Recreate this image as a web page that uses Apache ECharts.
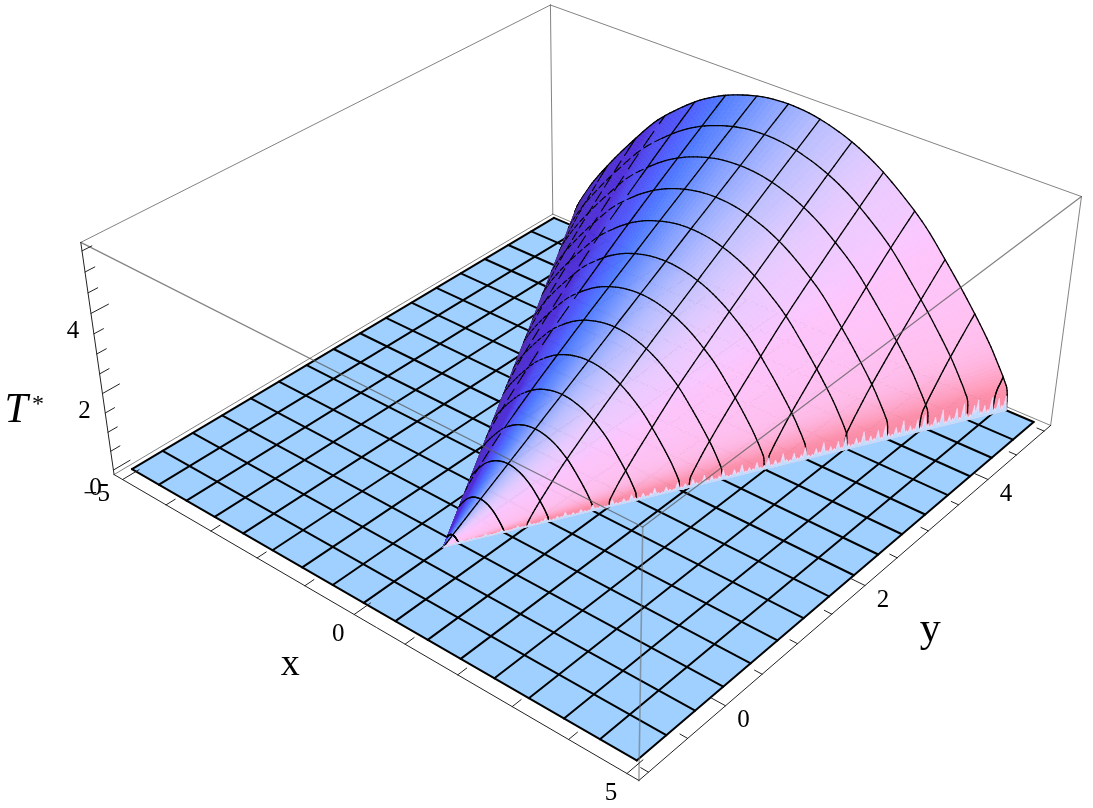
<!DOCTYPE html>
<html>
<head>
<meta charset="utf-8">
<style>html,body{margin:0;background:#fff}#chart{width:1093px;height:808px}</style>
<script src="https://cdn.jsdelivr.net/npm/echarts@6/dist/echarts.min.js"></script>
</head>
<body>
<div id="chart"></div>
<script>
// mesh lines of the sheet
const meshX = [-5, -4.375, -3.75, -3.125, -2.5, -1.875, -1.25, -0.625, 0, 0.625, 1.25, 1.875, 2.5, 3.125, 3.75, 4.375, 5]
const meshY = [-1, -0.625, -0.25, 0.125, 0.5, 0.875, 1.25, 1.625, 2, 2.375, 2.75, 3.125, 3.5, 3.875, 4.25, 4.625, 5]

// the raised part
const rowY = [0, 0.5, 1, 1.5, 2, 2.5, 3, 3.5, 4, 4.5, 5]
const rowEdge = [0, 0.45, 0.9, 1.35, 1.8, 2.25, 2.7, 3.15, 3.6, 4.05, 4.5]
const rowRidge = [0, 0.56, 1.11, 1.67, 2.22, 2.78, 3.33, 3.89, 4.44, 5.0, 5.55]
const profileU = [0, 0.1, 0.2, 0.3, 0.4, 0.5, 0.6, 0.7, 0.8, 0.9, 0.95, 0.98, 0.995, 1]
const profileT = [1, 0.992, 0.966, 0.925, 0.865, 0.785, 0.69, 0.565, 0.43, 0.28, 0.19, 0.13, 0.085, 0]

// ragged rim along the right foot of the surface, y = 0 .. 5
const rimT = [0.03, 0.07, 0.04, 0.05, 0.09, 0.03, 0.06, 0.08, 0.04, 0.03, 0.1, 0.05, 0.04, 0.07, 0.12, 0.05, 0.04, 0.06, 0.11, 0.05,
  0.04, 0.13, 0.06, 0.05, 0.09, 0.15, 0.06, 0.05, 0.11, 0.07, 0.17, 0.06, 0.1, 0.05, 0.14, 0.07, 0.06, 0.19, 0.08, 0.12,
  0.06, 0.07, 0.21, 0.09, 0.07, 0.15, 0.06, 0.23, 0.1, 0.08, 0.18, 0.07, 0.13, 0.25, 0.08, 0.07, 0.2, 0.1, 0.08, 0.27,
  0.09, 0.16, 0.08, 0.24, 0.11, 0.09, 0.29, 0.1, 0.2, 0.09, 0.14, 0.31, 0.1, 0.09, 0.23, 0.12, 0.33, 0.1, 0.18, 0.11,
  0.28, 0.1, 0.13, 0.35, 0.11, 0.22, 0.1, 0.37, 0.15, 0.11, 0.3, 0.12, 0.19, 0.39, 0.12, 0.11, 0.27, 0.14, 0.41, 0.12,
  0.22, 0.13, 0.34, 0.12, 0.43, 0.16, 0.13, 0.3, 0.14, 0.45, 0.13, 0.25, 0.15, 0.38, 0.13, 0.47, 0.18, 0.14, 0.33, 0.15,
  0.5, 0.14, 0.27, 0.16, 0.42, 0.15, 0.52, 0.2, 0.15, 0.36, 0.17, 0.55, 0.15, 0.3, 0.18, 0.48, 0.16, 0.58, 0.22, 0.17,
  0.44, 0.6, 0.18, 0.35, 0.2, 0.56, 0.18, 0.48, 0.22, 0.5]

const xTicks = [-5, -4, -3, -2, -1, 0, 1, 2, 3, 4, 5]
const yTicks = [-1, -0.5, 0, 0.5, 1, 1.5, 2, 2.5, 3, 3.5, 4, 4.5, 5]
const zTicks = [0, 0.5, 1, 1.5, 2, 2.5, 3, 3.5, 4, 4.5, 5, 5.5]
const xLabels = [-5, 0, 5]
const yLabels = [0, 2, 4]
const zLabels = [0, 2, 4]

const box = { x0: -5.2, x1: 5.2, y0: -1.12, y1: 5.12, z0: -0.12, z1: 5.7 }

// camera, as a projective matrix from plot units to page pixels
const cam = [
  [42.83306, 90.85655, -6.94372, 443.30836],
  [18.50898, -37.15944, -44.68183, 547.08954],
  [-0.01582, 0.03093, -0.0117, 1]
]
const boxScale = [10.4, 6.24, 14.55]

const project = (x, y, z) => {
  const w = cam[2][0] * x + cam[2][1] * y + cam[2][2] * z + cam[2][3]
  return [(cam[0][0] * x + cam[0][1] * y + cam[0][2] * z + cam[0][3]) / w,
    (cam[1][0] * x + cam[1][1] * y + cam[1][2] * z + cam[1][3]) / w, w]
}

const norm = v => {
  const l = Math.hypot(v[0], v[1], v[2])
  return [v[0] / l, v[1] / l, v[2] / l]
}
const dot = (a, b) => a[0] * b[0] + a[1] * b[1] + a[2] * b[2]
const cross = (a, b) => [a[1] * b[2] - a[2] * b[1], a[2] * b[0] - a[0] * b[2], a[0] * b[1] - a[1] * b[0]]

// view axes for the lighting
const rowBox = r => r.slice(0, 3).map((v, i) => v * boxScale[i])
const q3 = rowBox(cam[2])
const viewRight = norm(rowBox(cam[0]).map((v, i) => v - 546 * q3[i]))
const viewUp = norm(rowBox(cam[1]).map((v, i) => 404 * q3[i] - v))
const viewBack = norm(q3.map(v => -v))

const light1 = norm([1, 0, 1])
const light2 = norm([1, 1, 1])
const light3 = norm([0, 1, 1])
const shade = n => {
  const v = [dot(n, viewRight), dot(n, viewUp), dot(n, viewBack)]
  const r = 0.312 + 0.8 * Math.max(0, dot(v, light1))
  const g = 0.188 + 0.8 * Math.max(0, dot(v, light2))
  const b = 0.4 + 0.8 * Math.max(0, dot(v, light3))
  const c = t => Math.round(Math.min(1, t) * 255)
  return `rgb(${c(r)},${c(g)},${c(b)})`
}

// smooth curve through the read values
const smoothCurve = (xs, ys) => {
  const last = xs.length - 1
  const m = xs.map((_, i) => {
    if (i === 0) return 0
    if (i === last) return (ys[i] - ys[i - 1]) / (xs[i] - xs[i - 1])
    return (ys[i + 1] - ys[i - 1]) / (xs[i + 1] - xs[i - 1])
  })
  return x => {
    let i = 0
    while (i < last - 1 && x > xs[i + 1]) i++
    const h = xs[i + 1] - xs[i]
    const t = (x - xs[i]) / h
    return (2 * t * t * t - 3 * t * t + 1) * ys[i] + (t * t * t - 2 * t * t + t) * h * m[i] +
      (-2 * t * t * t + 3 * t * t) * ys[i + 1] + (t * t * t - t * t) * h * m[i + 1]
  }
}
const profileAt = smoothCurve(profileU, profileT)
const lerpRow = (arr, y) => {
  let i = 0
  while (i < rowY.length - 2 && y > rowY[i + 1]) i++
  return arr[i] + (arr[i + 1] - arr[i]) * (y - rowY[i]) / (rowY[i + 1] - rowY[i])
}
const height = (x, y) => {
  if (y <= 0) return 0
  const a = Math.abs(x) / lerpRow(rowEdge, y)
  return a >= 1 ? 0 : lerpRow(rowRidge, y) * profileAt(a)
}
const surfacePoint = (u, y) => [u * lerpRow(rowEdge, y), y, lerpRow(rowRidge, y) * profileAt(Math.abs(u))]

const line = (pts, color, width) => ({ kind: 'line', pts, color, width })
const seg3 = (a, b, color, width) => line([project(...a), project(...b)], color, width)

// surface quads and the mesh on them, sorted far to near
const uSteps = []
for (let i = 0; i <= 140; i++) uSteps.push(Math.sin((i / 140 - 0.5) * Math.PI))
const ySteps = []
for (let i = 0; i <= 100; i++) ySteps.push(i * 5 / 100)

const surfaceItems = []
const toBox = p => [p[0] / boxScale[0], p[1] / boxScale[1], p[2] / boxScale[2]]
const facesViewer = (a, b, c, d) => {
  const e = [b[0] - a[0], b[1] - a[1]]
  const f = [d[0] - a[0], d[1] - a[1]]
  return e[0] * f[1] - e[1] * f[0] < 0
}
const clamp = (v, lo, hi) => Math.min(hi, Math.max(lo, v))
// normal over a slightly wider span, so the shading runs smooth across the facets;
// the thin wall at the foot is faded in rather than sampled
const normalAt = (u, y) => {
  const a = toBox(surfacePoint(clamp(u + 0.035, -0.95, 0.98), y))
  const b = toBox(surfacePoint(clamp(u - 0.035, -0.98, 0.95), y))
  const c = toBox(surfacePoint(u, y + 0.05))
  const d = toBox(surfacePoint(u, Math.max(0.001, y - 0.05)))
  const n = norm(cross(a.map((v, k) => v - b[k]), c.map((v, k) => v - d[k])))
  const t = Math.max(0, (Math.abs(u) - 0.9) / 0.1)
  return norm([n[0], n[1], n[2] * (1 - 0.75 * t * t)])
}
for (let j = 0; j < ySteps.length - 1; j++) {
  const y0 = ySteps[j]
  const y1 = ySteps[j + 1]
  for (let i = 0; i < uSteps.length - 1; i++) {
    const u0 = uSteps[i]
    const u1 = uSteps[i + 1]
    const s = [surfacePoint(u0, y0), surfacePoint(u1, y0), surfacePoint(u1, y1), surfacePoint(u0, y1)].map(p => project(...p))
    if (j > 0 && !facesViewer(s[0], s[1], s[2], s[3])) continue
    const fill = shade(normalAt((u0 + u1) / 2, (y0 + y1) / 2))
    surfaceItems.push({ kind: 'poly', pts: s, fill, depth: (s[0][2] + s[1][2] + s[2][2] + s[3][2]) / 4 })
  }
}

let dashCount = 0
const addMeshSeg = (a, b) => {
  const pa = project(a[0], a[1], height(a[0], a[1]))
  const pb = project(b[0], b[1], height(b[0], b[1]))
  const mx = (a[0] + b[0]) / 2
  const my = (a[1] + b[1]) / 2
  const d = 0.01
  const c0 = project(mx, my, height(mx, my))
  const c1 = project(mx + d, my, height(mx + d, my))
  const c2 = project(mx, my + d, height(mx, my + d))
  if (!facesViewer(c0, c1, c0, c2)) return
  // the steep far side shows the mesh broken up
  const steep = mx / lerpRow(rowEdge, my) < -0.5 && my < 4.9
  if (steep && ++dashCount % 3 === 0) return
  const it = line([pa, pb], '#000', steep ? 1.1 : 1.3)
  it.depth = (pa[2] + pb[2]) / 2 - 0.004
  surfaceItems.push(it)
}
meshY.filter(y => y > 0).forEach(y => {
  const e = lerpRow(rowEdge, y)
  for (let i = 0; i < uSteps.length - 1; i++) addMeshSeg([uSteps[i] * e, y], [uSteps[i + 1] * e, y])
})
meshX.forEach(x => {
  const slope = rowEdge[rowEdge.length - 1] / rowY[rowY.length - 1]
  const start = Math.abs(x) / slope
  if (start >= 5) return
  for (let k = 0; k < 50; k++) {
    const t0 = k / 50
    const t1 = (k + 1) / 50
    addMeshSeg([x, start + (5 - start) * t0 * t0 + 0.0001], [x, start + (5 - start) * t1 * t1])
  }
})
surfaceItems.sort((a, b) => b.depth - a.depth)

// ragged rim
const rimItems = []
const addRim = (fill, f) => rimT.forEach((h, i) => {
  const y = (i + 0.5) * 5 / rimT.length
  const dy = 3.5 / rimT.length
  const lo = Math.max(0, y - dy)
  const hi = Math.min(5, y + dy)
  rimItems.push({
    kind: 'poly',
    fill,
    pts: [project(lerpRow(rowEdge, lo), lo, 0), project(lerpRow(rowEdge, y), y, h * f), project(lerpRow(rowEdge, hi), hi, 0)]
  })
})
addRim('#efdcf8', 0.8)
addRim('#c0dcfd', 0.4)

const { x0, x1, y0, y1, z0, z1 } = box
const grey = 'rgba(90,90,90,0.75)'

const backItems = [
  seg3([x0, y0, z0], [x0, y1, z0], grey, 1),
  seg3([x0, y1, z0], [x1, y1, z0], grey, 1),
  seg3([x0, y1, z0], [x0, y1, z1], grey, 1),
  seg3([x0, y0, z1], [x0, y1, z1], grey, 1),
  seg3([x0, y1, z1], [x1, y1, z1], grey, 1),
  seg3([x1, y1, z0], [x1, y1, z1], grey, 1)
]

const floorItems = [{
  kind: 'poly',
  fill: '#9fd0ff',
  pts: [project(-5, -1, 0), project(5, -1, 0), project(5, 5, 0), project(-5, 5, 0)]
}]
meshX.forEach(x => floorItems.push(seg3([x, -1, 0], [x, 5, 0], '#000', 2)))
meshY.forEach(y => floorItems.push(seg3([-5, y, 0], [5, y, 0], '#000', 2)))

const frontItems = [
  seg3([x0, y0, z1], [x1, y0, z1], grey, 1.2),
  seg3([x1, y0, z1], [x1, y1, z1], grey, 1.2),
  seg3([x1, y0, z0], [x1, y0, z1], 'rgba(110,110,110,0.6)', 1.6),
  seg3([x0, y0, z0], [x1, y0, z0], '#222', 1),
  seg3([x1, y0, z0], [x1, y1, z0], '#222', 1),
  seg3([x0, y0, z0], [x0, y0, z1], '#222', 1)
]
xTicks.forEach(t => {
  const l = xLabels.includes(t) ? 0.2 : 0.11
  frontItems.push(seg3([t, y0, z0], [t, y0 + l, z0], '#222', 1))
})
yTicks.forEach(t => {
  const l = yLabels.includes(t) ? 0.24 : 0.13
  frontItems.push(seg3([x1, t, z0], [x1 - l, t, z0], '#222', 1))
})
zTicks.forEach(t => {
  const l = zLabels.includes(t) ? 0.2 : 0.11
  frontItems.push(seg3([x0, y0, t], [x0, y0 + l, t], '#222', 1))
})

const serif = '"Liberation Serif", "Times New Roman", serif'
const text = (str, p, size, style) => ({ kind: 'text', str, pts: [p], size, style: style || 'normal' })
const at = (p, dx, dy) => [p[0] + dx, p[1] + dy]
const tickName = v => (v < 0 ? '\u2212' + (-v) : String(v))
const xLabelShift = [[-26, 15], [-16, 20], [-16, 20]]
const labelItems = []
xLabels.forEach((v, i) => labelItems.push(text(tickName(v), at(project(v, y0, z0), ...xLabelShift[i]), 25)))
yLabels.forEach(v => labelItems.push(text(tickName(v), at(project(x1, v, z0), 18, 15), 25)))
zLabels.forEach(v => labelItems.push(text(tickName(v), at(project(x0, y0, v), -18, 18), 25)))
labelItems.push(text('x', at(project(0, y0, z0), -64, 51), 38))
labelItems.push(text('y', at(project(x1, 2.5, z0), 33, 72), 42))
labelItems.push(text('T', at(project(x0, y0, 2.6), -83, 41), 42, 'italic'))
labelItems.push(text('*', at(project(x0, y0, 2.6), -61, 35), 24))

const draw = (it, api) => {
  const pts = it.pts.map(p => api.coord([p[0], p[1]]))
  if (it.kind === 'poly') {
    return { type: 'polygon', shape: { points: pts }, style: { fill: it.fill, stroke: it.fill, lineWidth: 0.7 } }
  }
  if (it.kind === 'line') {
    return { type: 'polyline', shape: { points: pts }, style: { fill: null, stroke: it.color, lineWidth: it.width, lineCap: 'round' } }
  }
  return {
    type: 'text',
    x: pts[0][0],
    y: pts[0][1],
    style: { text: it.str, font: `${it.style} ${it.size}px ${serif}`, fill: '#000', align: 'center', verticalAlign: 'middle' }
  }
}

const layer = (name, items, z) => ({
  type: 'custom',
  name,
  coordinateSystem: 'cartesian2d',
  silent: true,
  animation: false,
  clip: false,
  progressive: 0,
  z,
  encode: { x: 0, y: 1 },
  data: items.map((it, i) => [it.pts[0][0], it.pts[0][1], i]),
  renderItem: (params, api) => draw(items[api.value(2)], api)
})

const chart = echarts.init(document.getElementById('chart'))
chart.setOption({
  animation: false,
  grid: { left: 0, right: 0, top: 0, bottom: 0 },
  xAxis: { type: 'value', min: 0, max: 1093, show: false },
  yAxis: { type: 'value', min: 0, max: 808, inverse: true, show: false },
  series: [
    layer('box back', backItems, 1),
    layer('floor', floorItems, 2),
    layer('surface', surfaceItems, 3),
    layer('rim', rimItems, 4),
    layer('box front', frontItems, 5),
    layer('labels', labelItems, 6)
  ]
})
</script>
</body>
</html>
